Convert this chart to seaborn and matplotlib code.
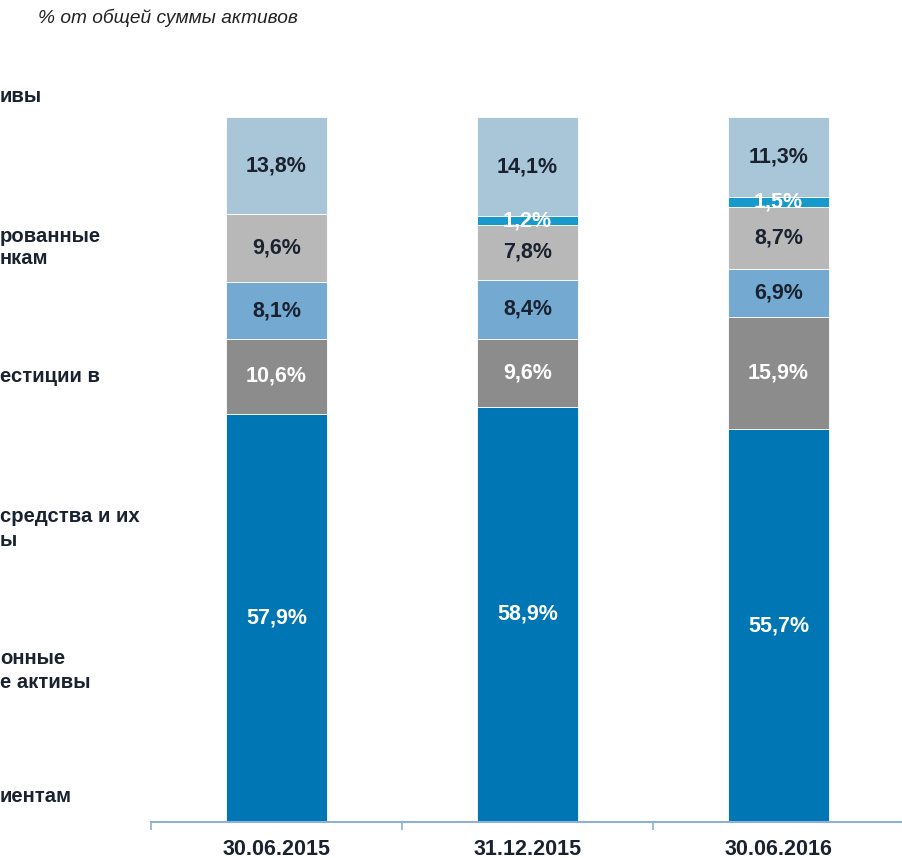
import numpy as np
import pandas as pd
import seaborn as sns
import matplotlib.pyplot as plt

dates = ["30.06.2015", "31.12.2015", "30.06.2016"]

# stacked from bottom to top
loans = [57.9, 58.9, 55.7]
investments = [10.6, 9.6, 15.9]
cash = [8.1, 8.4, 6.9]
due_banks = [9.6, 7.8, 8.7]
derivatives = [0.0, 1.2, 1.5]
other = [13.8, 14.1, 11.3]

series = [loans, investments, cash, due_banks, derivatives, other]
colors = ["#0076b4", "#8c8c8c", "#74a9d1", "#b8b8b8", "#1799cc", "#a9c5d8"]
text_colors = ["white", "white", "#1a2230", "#1a2230", "white", "#1a2230"]

# legend texts, cut by the left edge of the picture
legend_lines = ["ивы", "рованные", "нкам", "естиции в", "средства и их", "ы",
                "онные", "е активы", "иентам"]
legend_y = [97, 237, 259, 376, 517, 541, 659, 683, 797]

title = "% от общей суммы активов"

sns.set_style("white")
plt.rcParams["font.family"] = ["Liberation Sans", "DejaVu Sans"]

W, H = 903, 858
fig = plt.figure(figsize=(W / 100, H / 100), dpi=100)
ax = fig.add_axes([151 / W, (H - 822) / H, (904 - 151) / W, (822 - 117) / H])

bottom = np.zeros(len(dates))
for vals, col, tcol in zip(series, colors, text_colors):
    df = pd.DataFrame({"date": dates, "value": vals})
    sns.barplot(data=df, x="date", y="value", color=col, width=0.4,
                bottom=bottom, saturation=1, edgecolor="white", linewidth=0.6,
                ax=ax)
    for i, v in enumerate(vals):
        if v > 0:
            ax.text(i, bottom[i] + v / 2, f"{v:.1f}%".replace(".", ","),
                    ha="center", va="center", fontsize=15.5, fontweight="bold",
                    color=tcol)
    bottom = bottom + np.array(vals)

ax.set_xlim(-0.5, 2.5)
ax.set_ylim(0, 100)
ax.set_xlabel("")
ax.set_ylabel("")
ax.set_yticks([])
for s in ["top", "left", "right"]:
    ax.spines[s].set_visible(False)
ax.spines["bottom"].set_color("#8fb0d6")
ax.spines["bottom"].set_linewidth(1.5)
ax.set_xticks(range(len(dates)))
ax.set_xticklabels(dates, fontsize=15.5, fontweight="bold", color="#1a2230")
ax.set_xticks([-0.5, 0.5, 1.5, 2.5], minor=True)
ax.tick_params(axis="x", which="major", bottom=False, length=0, pad=12)
ax.tick_params(axis="x", which="minor", bottom=True, length=6, width=1.2,
               color="#8fb0d6", direction="out")

fig.text(38 / W, 1 - 18 / H, title, ha="left", va="center", fontsize=13.8,
         style="italic", color="#222222")
for txt, y in zip(legend_lines, legend_y):
    fig.text(0, 1 - y / H, txt, ha="left", va="center", fontsize=14.6,
             fontweight="bold", color="#1a2230")

fig.savefig("out.png", dpi=100)
